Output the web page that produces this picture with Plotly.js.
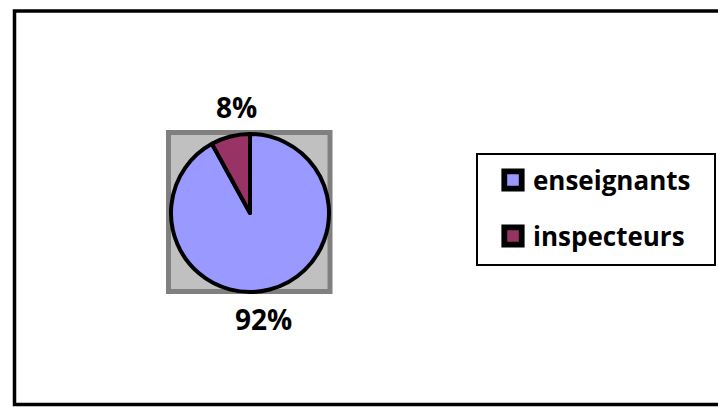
<!DOCTYPE html>
<html>
<head>
<meta charset="utf-8">
<script src="https://cdn.plot.ly/plotly-3.0.1.min.js"></script>
<style>html,body{margin:0;padding:0;background:#fff;}#chart{width:718px;height:407px;}</style>
</head>
<body>
<div id="chart"></div>
<script>
const categories = ["enseignants", "inspecteurs"];
const shares = [92, 8];
const sliceColors = ["#9999ff", "#993366"];

const W = 718, H = 407;
const px = v => v / W;
const py = v => 1 - v / H;

// pie placement (pixels)
const pieLeft = 171, pieRight = 329, pieTop = 134, pieBottom = 292;
const cx = (pieLeft + pieRight) / 2, cy = (pieTop + pieBottom) / 2;
const R = (pieRight - pieLeft) / 2;

const trace = {
  type: "pie",
  labels: categories,
  values: shares,
  sort: false,
  direction: "clockwise",
  rotation: 0,
  marker: { colors: sliceColors, line: { color: "#000000", width: 4 } },
  textinfo: "none",
  domain: { x: [px(pieLeft), px(pieRight)], y: [py(pieBottom), py(pieTop)] },
  hoverinfo: "none"
};

// percent labels placed from each slice's mid angle (clockwise from 12 o'clock)
const total = shares.reduce((a, b) => a + b, 0);
const annotations = [];
let cum = 0;
shares.forEach((v, i) => {
  const mid = (cum + v / 2) / total * 2 * Math.PI;
  cum += v;
  const dx = Math.sin(mid) * R * 0.68;
  const dy = -Math.cos(mid) * R * 1.39;
  annotations.push({
    xref: "paper", yref: "paper",
    x: px(cx + dx), y: py(cy + dy),
    xanchor: "center", yanchor: "middle",
    text: Math.round(v / total * 100) + "%",
    showarrow: false,
    font: { family: "Open Sans", size: 28, color: "#000000", weight: "bold" }
  });
});

const legendLeft = 476, legendTop = 153, legendW = 240, legendH = 113;

const layout = {
  width: W, height: H,
  margin: { l: 0, r: 0, t: 0, b: 0 },
  paper_bgcolor: "#ffffff",
  showlegend: true,
  legend: {
    x: px(legendLeft), y: py(legendTop), xanchor: "left", yanchor: "top",
    bgcolor: "#ffffff", bordercolor: "#000000", borderwidth: 2,
    font: { family: "Open Sans", size: 26, color: "#000000", weight: "bold" },
    itemclick: false
  },
  annotations: annotations,
  shapes: [
    { type: "rect", xref: "paper", yref: "paper", layer: "below",
      x0: px(168.5), x1: px(330), y0: py(291.5), y1: py(132.5),
      fillcolor: "#c0c0c0", line: { color: "#808080", width: 5 } },
    { type: "rect", xref: "paper", yref: "paper", layer: "above",
      x0: px(14.5), x1: 1.2, y0: py(404.5), y1: py(11),
      fillcolor: "rgba(0,0,0,0)", line: { color: "#000000", width: 3.5 } }
  ]
};

Plotly.newPlot("chart", [trace], layout, { displayModeBar: false, staticPlot: true }).then(gd => {
  const leg = gd.querySelector("g.legend");
  if (!leg) return;
  // spread legend entries like the original
  const items = leg.querySelectorAll("g.traces");
  items.forEach((g, i) => {
    g.setAttribute("transform", "translate(17," + (27 + i * 56) + ")");
  });
  // thicker, larger legend swatches
  leg.querySelectorAll("g.legendpoints path").forEach(p => {
    p.setAttribute("transform", "translate(20,0) scale(1.45)");
    p.style.strokeWidth = "4px";
  });
  const bg = leg.querySelector("rect.bg");
  if (bg) {
    bg.setAttribute("width", legendW - 2);
    bg.setAttribute("height", legendH - 2);
  }
  gd.querySelectorAll("clipPath[id*='legend'] rect").forEach(r => {
    r.setAttribute("width", legendW);
    r.setAttribute("height", legendH);
  });
});
</script>
</body>
</html>
